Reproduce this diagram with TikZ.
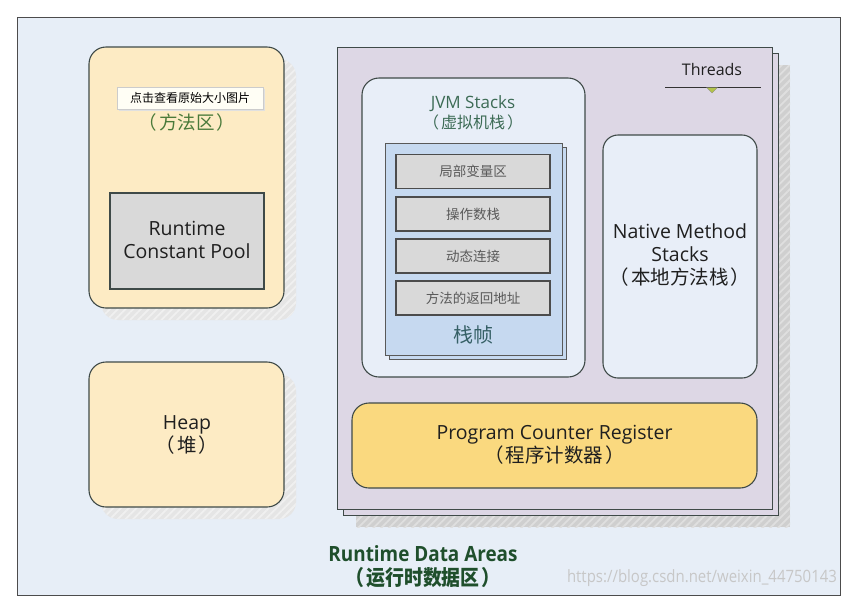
\documentclass[tikz,border=0pt]{standalone}
\usepackage{fontspec}
\setmainfont{Open Sans}
\newfontfamily\cjk{Noto Sans CJK SC}
\usetikzlibrary{patterns.meta}
\definecolor{bgblue}{HTML}{E7EEF7}
\definecolor{cream}{HTML}{FDEBC4}
\definecolor{lav}{HTML}{DDD7E5}
\definecolor{paleblue}{HTML}{E8EEF8}
\definecolor{framefill}{HTML}{C6D9F0}
\definecolor{cellgray}{HTML}{D9D9D9}
\definecolor{gold}{HTML}{FAD97F}
\definecolor{bordergray}{HTML}{3F4A48}
\definecolor{greentxt}{HTML}{4A7A3A}
\definecolor{tealtxt}{HTML}{3C6B55}
\definecolor{darkgreen}{HTML}{1F4F2C}
\definecolor{trigreen}{HTML}{B3C44A}
\newcommand{\lp}{（\hspace{2pt}}
\newcommand{\rp}{\hspace{2pt}）}
\tikzset{
  boxline/.style={draw=bordergray, line width=1.1pt},
  rbox/.style={boxline, rounded corners=17pt, inner sep=0pt},
  sbox/.style={boxline, inner sep=0pt},
  hatch/.style={fill=gray!38, postaction={pattern={Lines[angle=45,distance=5.5pt,line width=1.8pt]}, pattern color=white!75!gray}},
  softhatch/.style={fill=gray!20, postaction={pattern={Lines[angle=45,distance=5.5pt,line width=1.8pt]}, pattern color=white!88!gray}},
  lbl/.style={align=center, font=\fontsize{19.5}{23}\selectfont, text=black!88},
  cell/.style={sbox, draw=black!70, fill=cellgray, minimum width=154pt, minimum height=34pt, font=\cjk\fontsize{13.5}{15}\selectfont, text=black!65},
}
\begin{document}
\begin{tikzpicture}[x=1pt,y=-1pt]
\useasboundingbox (0,0) rectangle (848,598);
\fill[white] (0,0) rectangle (848,598);
% outer frame
\node[draw=black!70, line width=1.2pt, fill=bgblue, inner sep=0pt, minimum width=823pt, minimum height=578pt, anchor=north west] (outer) at (17,17) {};

% shadows
\path[softhatch, rounded corners=17pt] (101,59) rectangle (296,320);
\path[softhatch, rounded corners=17pt] (101,374) rectangle (296,519);
\path[hatch] (356,65) rectangle (790,527);

% method area
\node[rbox, fill=cream, minimum width=195pt, minimum height=261pt] (method) at (186.5,177.5) {};
\node[sbox, fill=cellgray, minimum width=154pt, minimum height=96pt] (rcp) at (187,241) {};
\node[lbl] (rcptxt) at (187,240) {Runtime\\Constant Pool};
\node[font=\cjk\fontsize{18.5}{20}\selectfont, text=greentxt] (methodtxt) at (187,122) {\lp 方法区\rp};
\fill[black!12] (119,89) rectangle (265,111);
\node[draw=black!20, fill=white!96!yellow, inner sep=0pt, minimum width=146pt, minimum height=22pt, font=\cjk\fontsize{12}{14}\selectfont] (tip) at (190,98) {点击查看原始大小图片};

% heap
\node[rbox, fill=cream, minimum width=195pt, minimum height=145pt] (heap) at (186.5,434.5) {};
\node[lbl] (heaptxt) at (187,435) {Heap\\{\cjk\lp 堆\rp}};

% threads
\node[sbox, fill=lav, minimum width=435pt, minimum height=462pt, anchor=north west] (threadsback) at (343,53) {};
\node[sbox, fill=lav, minimum width=435pt, minimum height=462pt, anchor=north west] (threads) at (337,47) {};
\node[font=\fontsize{16}{18}\selectfont, text=black!88] (threadstxt) at (712,69) {Threads};
\coordinate (tl) at (665,87);
\coordinate (tr) at (761,87);
\draw[black!80, line width=0.9pt] (tl) -- (tr);
\fill[trigreen, draw=black!50, line width=0.3pt] (706.5,87.5) -- (717.5,87.5) -- (712,93) -- cycle;

% JVM stacks
\node[rbox, fill=paleblue, minimum width=223pt, minimum height=299pt] (jvm) at (473.5,227.5) {};
\node[align=center, font=\fontsize{17}{20}\selectfont, text=tealtxt] (jvmtxt) at (473,112.5) {JVM Stacks\\{\cjk\fontsize{16}{20}\selectfont\lp 虚拟机栈\rp}};

% frames
\node[sbox, draw=black!65, fill=framefill, minimum width=177pt, minimum height=212pt, anchor=north west] (frameback) at (389,147) {};
\node[sbox, draw=black!65, fill=framefill, minimum width=177pt, minimum height=212pt, anchor=north west] (frame) at (385,143) {};
\node[cell] (c1) at (473,171.5) {局部变量区};
\node[cell] (c2) at (473,214) {操作数栈};
\node[cell] (c3) at (473,256) {动态连接};
\node[cell] (c4) at (473,298) {方法的返回地址};
\node[font=\cjk\fontsize{20}{22}\selectfont, text=tealtxt!90!blue] (frametxt) at (473,335) {栈帧};

% native
\node[rbox, rounded corners=15pt, fill=paleblue, minimum width=154pt, minimum height=243pt] (native) at (680,256.5) {};
\node[lbl] (nativetxt) at (680,255.5) {Native Method\\Stacks\\{\cjk\lp 本地方法栈\rp}};

% PC register
\node[rbox, fill=gold, minimum width=405pt, minimum height=85pt] (pc) at (554.5,445.5) {};
\node[lbl] (pctxt) at (554.5,445) {Program Counter Register\\{\cjk\lp 程序计数器\rp}};

% title
\node[align=center, text=darkgreen, font=\bfseries\fontsize{21}{24}\selectfont, xscale=0.9] (title) at (423,567) {Runtime Data Areas\\{\cjk\bfseries\lp 运行时数据区\rp}};
\node[text=black!22, font=\fontsize{17}{20}\selectfont, xscale=0.88, anchor=east] (wm) at (840,578) {https://blog.csdn.net/weixin\_44750143};
\end{tikzpicture}
\end{document}
